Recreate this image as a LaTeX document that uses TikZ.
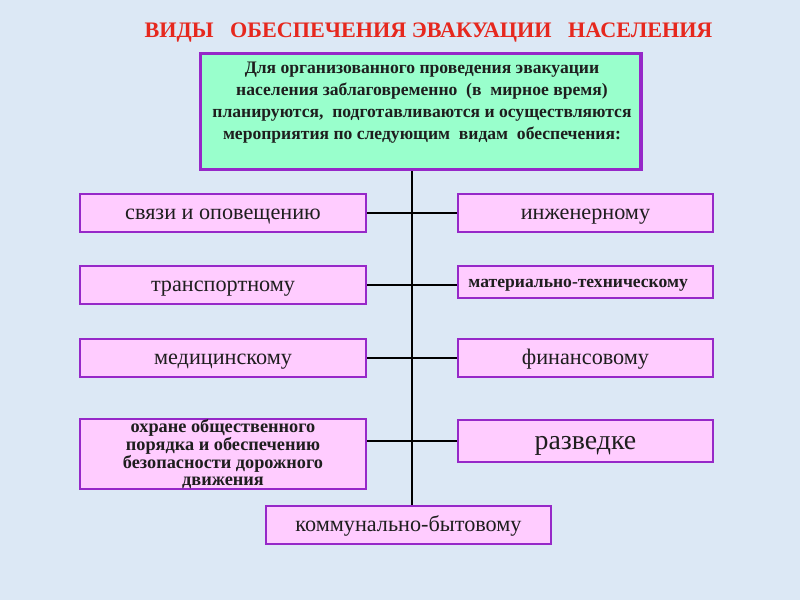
\documentclass[tikz,border=0pt]{standalone}
\usepackage{fontspec}
\setmainfont{Liberation Serif}
\usepackage{tikz}

\definecolor{bgblue}{RGB}{220,232,245}
\definecolor{titlered}{RGB}{230,40,30}
\definecolor{boxpink}{RGB}{255,204,255}
\definecolor{boxline}{RGB}{150,40,200}
\definecolor{mint}{RGB}{153,255,204}
\definecolor{darktext}{RGB}{30,30,30}

\tikzset{
    kind/.style={draw=boxline, fill=boxpink, line width=1.5pt, inner sep=0pt,
        font=\fontsize{15.8}{17}\selectfont, text=darktext,
        text height=12.5pt, text depth=3pt},
    leftkind/.style={kind, minimum width=7.15cm, minimum height=0.93cm},
    rightkind/.style={kind, minimum width=6.37cm, minimum height=0.93cm},
    link/.style={line width=1.3pt, black}
}

\begin{document}
\begin{tikzpicture}[x=0.025cm, y=-0.025cm]

    \fill[bgblue] (0,0) rectangle (800,600);
    \useasboundingbox (0,0) rectangle (800,600);

    \coordinate (t) at (412,0);

    \node (title) at (428.5,33) [text=titlered, font=\bfseries\fontsize{15.75}{17}\selectfont]
        {ВИДЫ \ \ ОБЕСПЕЧЕНИЯ ЭВАКУАЦИИ \ \ НАСЕЛЕНИЯ};

    \node (top) at (420.5,111.5) [draw=boxline, fill=mint, line width=2.2pt,
        minimum width=11.02cm, minimum height=2.92cm] {};
    \node (toptext) at (422,103) [align=center, text=darktext,
        font=\bfseries\fontsize{12.5}{15.6}\selectfont]
        {Для организованного проведения эвакуации\\
         населения заблаговременно \ (в \ мирное время)\\
         планируются, \ подготавливаются и осуществляются\\
         мероприятия по следующим \ видам \ обеспечения:};

    \node (l1) at (223,213) [leftkind] {связи и оповещению};
    \node (r1) at (585.5,213) [rightkind] {инженерному};
    \node (l2) at (223,285) [leftkind] {транспортному};
    \node (r2) at (585.5,282) [rightkind, minimum height=0.8cm, text width=5.85cm, align=left,
        font=\bfseries\fontsize{12.5}{13}\selectfont, text height=10pt, text depth=2.5pt]
        {материально-техническому};
    \node (l3) at (223,358) [leftkind] {медицинскому};
    \node (r3) at (585.5,358) [rightkind] {финансовому};
    \node (l4) at (223,454) [leftkind, minimum height=1.7cm, align=center,
        font=\bfseries\fontsize{13}{12}\selectfont, text height=, text depth=]
        {охране общественного\\ порядка и обеспечению\\ безопасности дорожного\\ движения};
    \node (r4) at (585.5,441) [rightkind, minimum height=1.05cm,
        font=\fontsize{19.8}{21}\selectfont, text height=15pt, text depth=3.5pt] {разведке};
    \node (bot) at (408.5,525) [kind, minimum width=7.12cm, minimum height=0.95cm]
        {коммунально-бытовому};

    \draw[link] (top.south -| t) -- (bot.north -| t);
    \draw[link] (l1.east) -- (r1.west);
    \draw[link] (l2.east) -- (r2.west |- l2.east);
    \draw[link] (l3.east) -- (r3.west);
    \draw[link] (r4.west) -- (r4.west -| l4.east);

\end{tikzpicture}
\end{document}
